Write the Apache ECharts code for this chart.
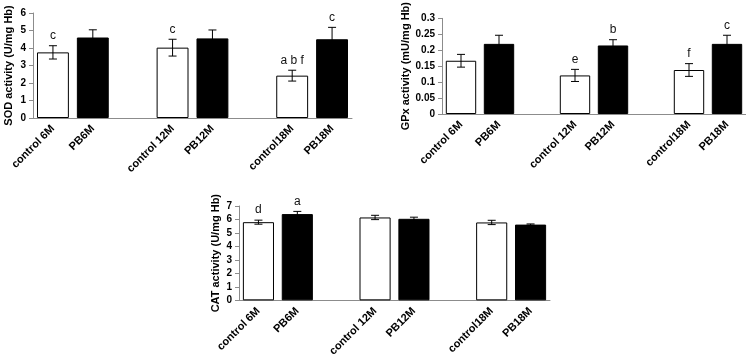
<!DOCTYPE html>
<html>
<head>
<meta charset="utf-8">
<script src="https://cdn.jsdelivr.net/npm/echarts@6/dist/echarts.min.js"></script>
<style>
html,body{margin:0;padding:0;background:#fff;}
#c{width:746px;height:359px;}
</style>
</head>
<body>
<div id="c"></div>
<script>
// Categories (blank slots separate the age groups)
const categories = ['control 6M', 'PB6M', ' ', 'control 12M', 'PB12M', '  ', 'control18M', 'PB18M'];
const groupType = ['control', 'PB', null, 'control', 'PB', null, 'control', 'PB'];

// SOD activity (U/mg Hb)
const sodMean = [3.75, 4.6, null, 4.02, 4.55, null, 2.42, 4.5];
const sodErr = [0.38, 0.44, null, 0.48, 0.48, null, 0.31, 0.68];
const sodLetters = ['c', '', '', 'c', '', '', 'a b f', 'c'];

// GPx activity (mU/mg Hb)
const gpxMean = [0.167, 0.22, null, 0.121, 0.215, null, 0.138, 0.22];
const gpxErr = [0.02, 0.027, null, 0.019, 0.018, null, 0.02, 0.027];
const gpxLetters = ['', '', '', 'e', 'b', '', 'f', 'c'];

// CAT activity (U/mg Hb)
const catMean = [5.8, 6.4, null, 6.15, 6.05, null, 5.78, 5.62];
const catErr = [0.15, 0.2, null, 0.16, 0.12, null, 0.16, 0.05];
const catLetters = ['d', 'a', '', '', '', '', '', ''];

// Axis settings
const sodAxis = {name: 'SOD activity (U/mg Hb)', min: 0, max: 6, interval: 1};
const gpxAxis = {name: 'GPx activity (mU/mg Hb)', min: 0, max: 0.3, interval: 0.05};
const catAxis = {name: 'CAT activity (U/mg Hb)', min: 0, max: 7, interval: 1};

const FONT = '"Liberation Sans", Arial, sans-serif';
const AXIS_COLOR = '#8c8c8c';

function xAxisFor(gi) {
  return {
    type: 'category', gridIndex: gi, data: categories,
    axisLine: {lineStyle: {color: AXIS_COLOR}},
    axisTick: {show: false},
    axisLabel: {interval: 0, rotate: 45, margin: 9, color: '#000', fontWeight: 'bold', fontSize: 11, fontFamily: FONT}
  };
}
function yAxisFor(gi, ax, gap) {
  return {
    type: 'value', gridIndex: gi, min: ax.min, max: ax.max, interval: ax.interval,
    name: ax.name, nameLocation: 'middle', nameGap: gap,
    nameTextStyle: {color: '#000', fontWeight: 'bold', fontSize: 11, fontFamily: FONT},
    axisLine: {show: true, lineStyle: {color: AXIS_COLOR}},
    axisTick: {show: true, length: 4, lineStyle: {color: AXIS_COLOR}},
    splitLine: {show: false},
    axisLabel: {color: '#000', fontWeight: 'bold', fontSize: 10, fontFamily: FONT, margin: 7}
  };
}
function barSeries(gi, mean) {
  return {
    type: 'bar', xAxisIndex: gi, yAxisIndex: gi, barWidth: '80%',
    silent: true,
    data: mean.map((v, i) => ({
      value: v,
      itemStyle: groupType[i] === 'PB'
        ? {color: '#000', borderColor: '#000', borderWidth: 1}
        : {color: '#fff', borderColor: '#000', borderWidth: 1}
    }))
  };
}
function errSeries(gi, mean, err, letters) {
  const data = [];
  mean.forEach((v, i) => { if (v !== null) data.push([i, v, err[i]]); });
  return {
    type: 'custom', xAxisIndex: gi, yAxisIndex: gi, silent: true, z: 5,
    data: data,
    renderItem: function (params, api) {
      const i = api.value(0), m = api.value(1), e = api.value(2);
      const top = api.coord([i, m + e]);
      const bot = api.coord([i, m - e]);
      const h = 4;
      const style = {stroke: '#000', lineWidth: 1};
      const children = [
        {type: 'line', shape: {x1: top[0], y1: top[1], x2: bot[0], y2: bot[1]}, style: style},
        {type: 'line', shape: {x1: top[0] - h, y1: top[1], x2: top[0] + h, y2: top[1]}, style: style},
        {type: 'line', shape: {x1: bot[0] - h, y1: bot[1], x2: bot[0] + h, y2: bot[1]}, style: style}
      ];
      const t = letters[i];
      if (t) {
        children.push({type: 'text', style: {
          x: top[0], y: top[1] - 4, text: t, textAlign: 'center', textVerticalAlign: 'bottom',
          fill: '#111', font: '12px ' + FONT
        }});
      }
      return {type: 'group', children: children};
    }
  };
}

const chart = echarts.init(document.getElementById('c'), null, {renderer: 'canvas'});
chart.setOption({
  animation: false,
  backgroundColor: '#fff',
  grid: [
    {left: 33, top: 13, width: 319, height: 105},
    {left: 442, top: 5, width: 304, height: 109},
    {left: 239, top: 206, width: 311, height: 97.5}
  ],
  xAxis: [xAxisFor(0), xAxisFor(1), xAxisFor(2)],
  yAxis: [yAxisFor(0, sodAxis, 19), yAxisFor(1, gpxAxis, 28), yAxisFor(2, catAxis, 18)],
  series: [
    barSeries(0, sodMean), errSeries(0, sodMean, sodErr, sodLetters),
    barSeries(1, gpxMean), errSeries(1, gpxMean, gpxErr, gpxLetters),
    barSeries(2, catMean), errSeries(2, catMean, catErr, catLetters)
  ]
});
</script>
</body>
</html>
